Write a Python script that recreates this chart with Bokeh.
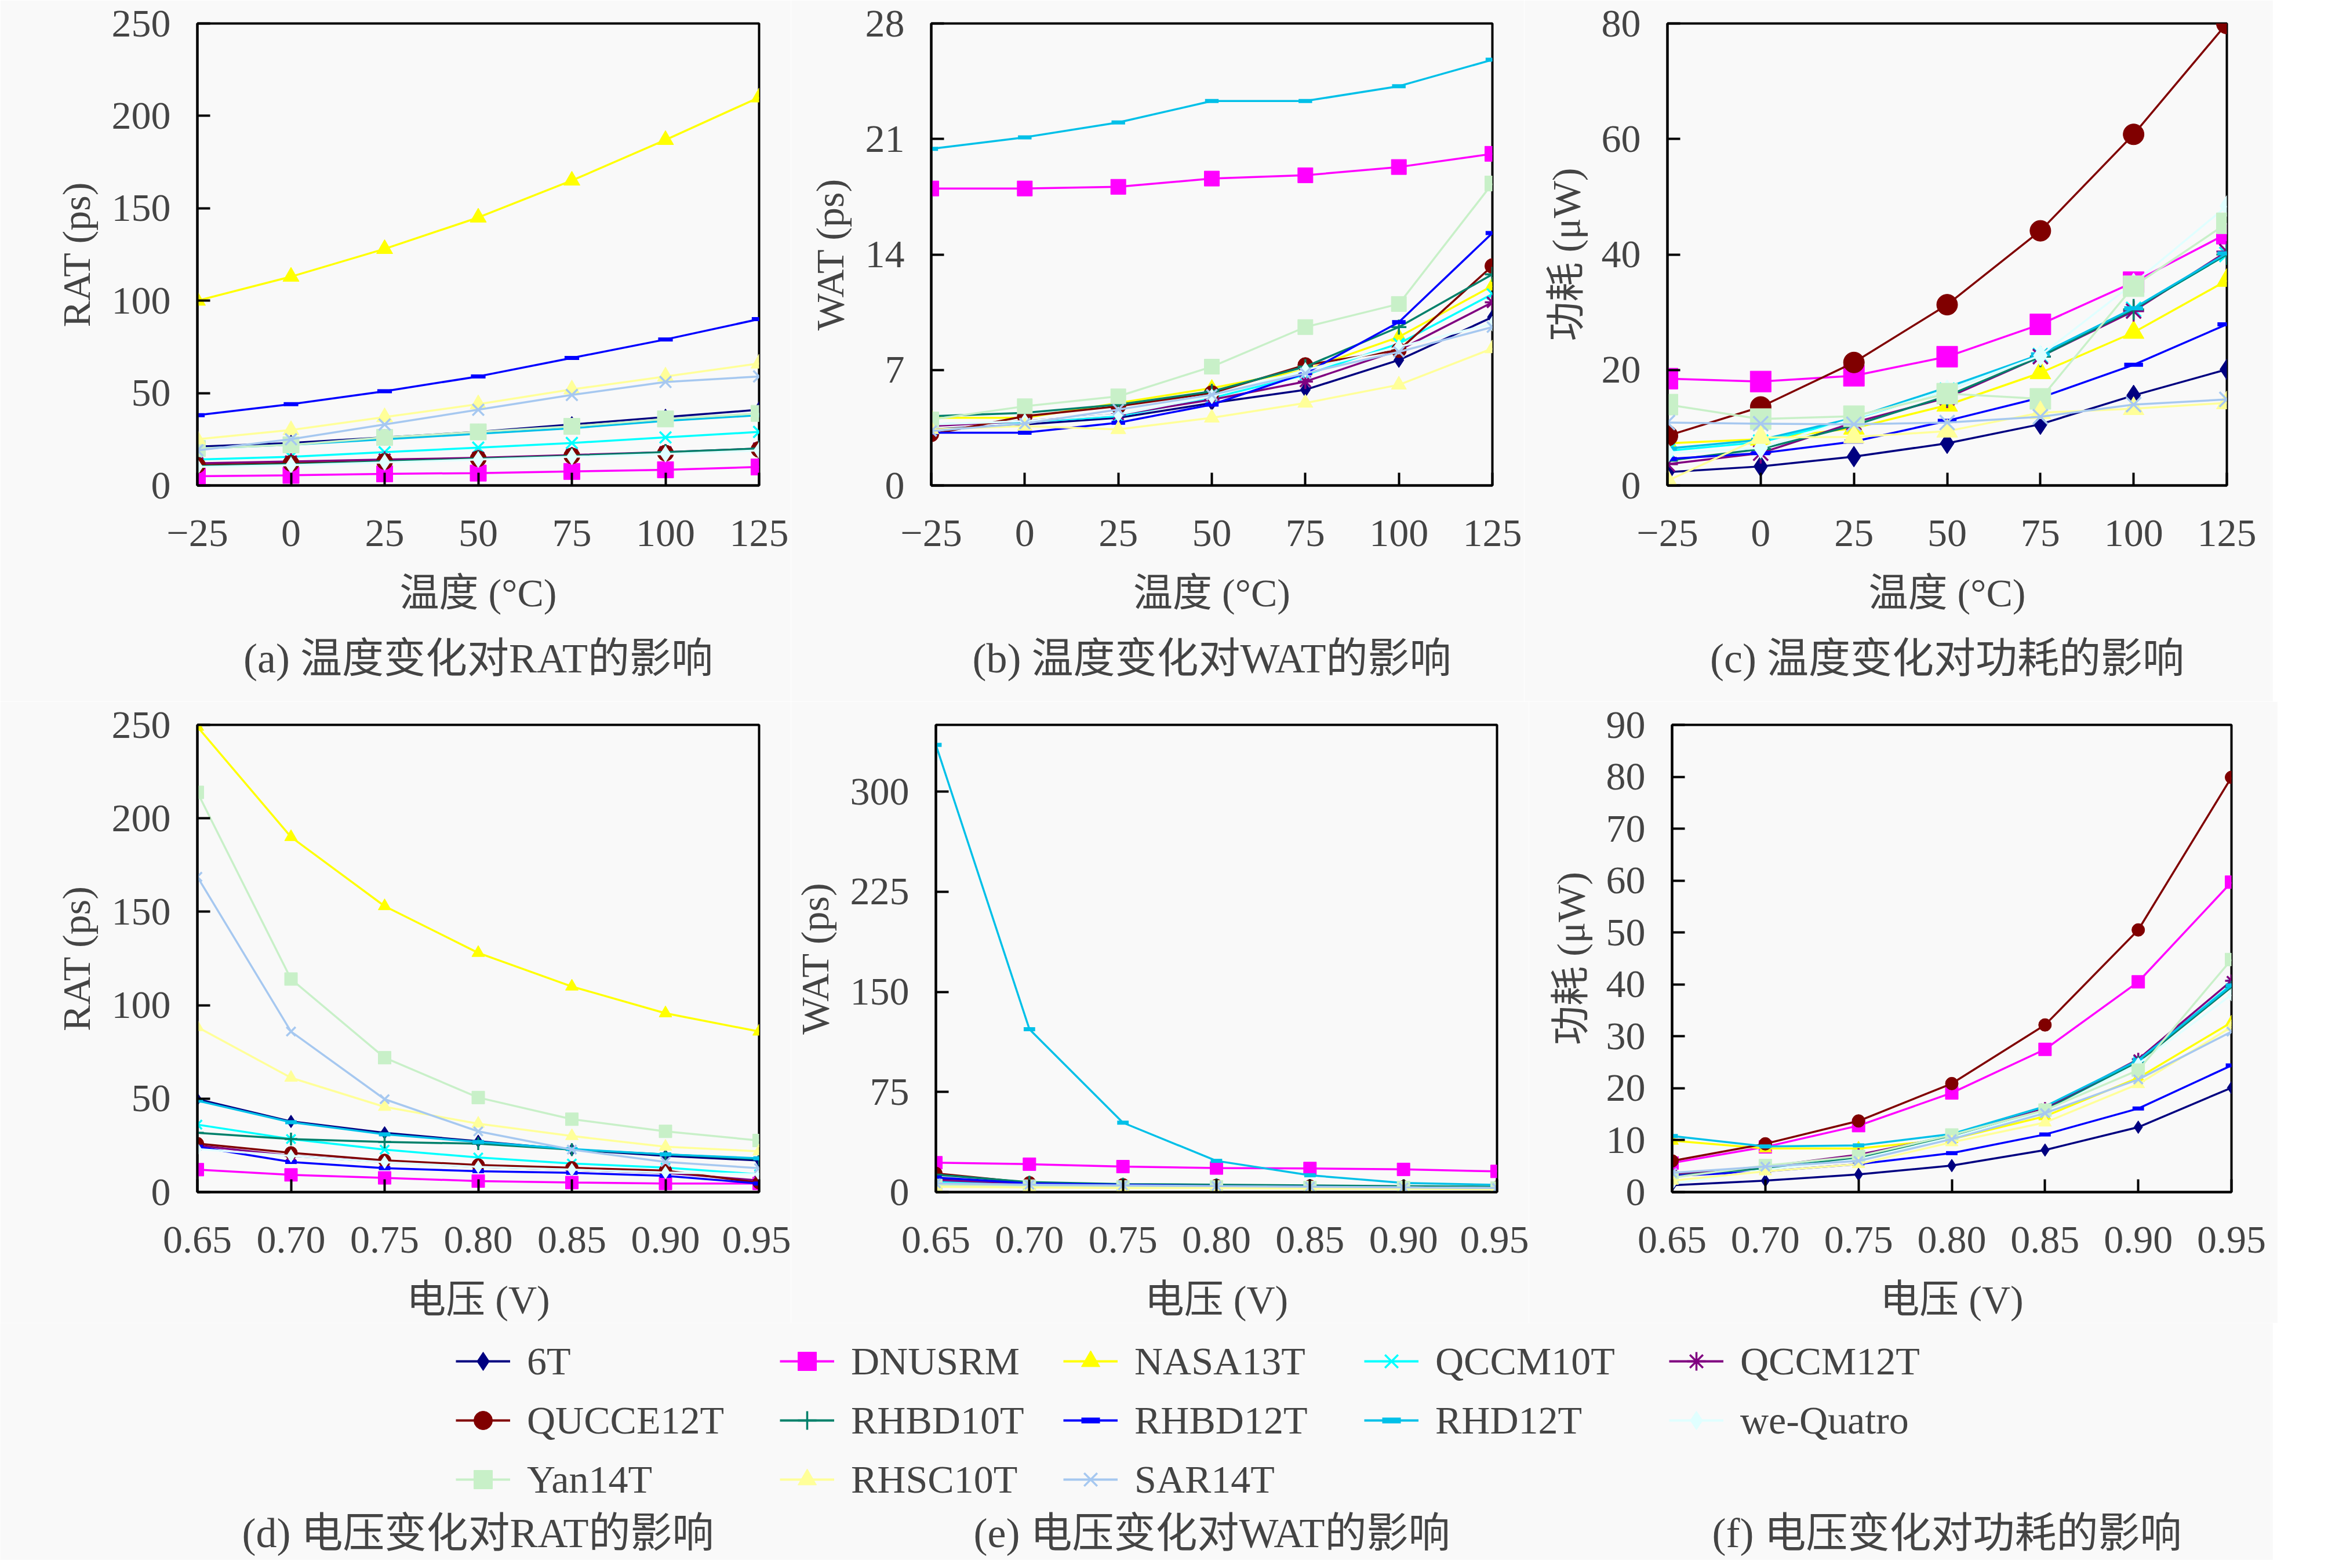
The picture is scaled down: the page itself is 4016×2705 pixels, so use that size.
from bokeh.plotting import figure
from bokeh.layouts import column, row
from bokeh.models import Legend, LegendItem, Label, Title, FixedTicker, Range1d
from bokeh.embed import file_html
from bokeh.resources import INLINE

# ---------------- data ----------------
names = ["6T", "DNUSRM", "NASA13T", "QCCM10T", "QCCM12T", "QUCCE12T", "RHBD10T",
         "RHBD12T", "RHD12T", "we-Quatro", "Yan14T", "RHSC10T", "SAR14T"]
colors = ["#000080", "#FF00FF", "#FFFF00", "#00FFFF", "#800080", "#800000", "#00806A",
          "#0000FF", "#00C0E8", "#E0FFFF", "#C8F0C8", "#FFFF99", "#A6C8F0"]
markers = ["diamond", "square", "triangle", "x", "asterisk", "circle", "cross",
           "dash", "dash", "diamond", "square", "triangle", "x"]

temps = [-25, 0, 25, 50, 75, 100, 125]
temp_labels = ["\u221225", "0", "25", "50", "75", "100", "125"]
volts = [0.65, 0.70, 0.75, 0.80, 0.85, 0.90, 0.95]
volt_labels = ["0.65", "0.70", "0.75", "0.80", "0.85", "0.90", "0.95"]

# (a) RAT vs temperature (ps)
rat_temp = [
    [21, 23, 26, 29, 33, 37, 41],
    [5, 5.5, 6.3, 6.7, 7.6, 8.5, 10],
    [100, 113, 128, 145, 165, 187, 210],
    [14, 15.5, 18, 20.5, 23, 26, 29],
    [12, 13, 14, 15, 16.5, 18, 20],
    [11, 12, 13, 14.5, 16, 17.5, 19.5],
    [10.5, 11.5, 13, 14.5, 16, 18, 20],
    [38, 44, 51, 59, 69, 79, 90],
    [20, 22, 25, 28, 31, 35, 38],
    [10, 11, 12.5, 14, 15.5, 17, 19],
    [20, 22, 26, 29, 32, 36, 39],
    [25, 30, 37, 44, 52, 59, 66],
    [19, 25, 33, 41, 49, 56, 59],
]
# (b) WAT vs temperature (ps)
wat_temp = [
    [3.4, 3.7, 4.1, 5.0, 5.8, 7.6, 10.2],
    [18.0, 18.0, 18.1, 18.6, 18.8, 19.3, 20.1],
    [4.1, 4.1, 5.0, 5.9, 7.0, 9.0, 12.1],
    [3.7, 3.85, 4.2, 5.3, 6.7, 8.6, 11.6],
    [3.6, 3.9, 4.3, 5.2, 6.3, 8.2, 11.1],
    [3.1, 4.2, 4.8, 5.6, 7.3, 8.2, 13.3],
    [4.2, 4.4, 4.9, 5.7, 7.2, 9.6, 12.8],
    [3.2, 3.2, 3.8, 4.9, 6.8, 9.9, 15.3],
    [20.4, 21.1, 22.0, 23.3, 23.3, 24.2, 25.8],
    [3.7, 3.9, 4.3, 5.4, 7.0, 8.4, 9.8],
    [4.0, 4.8, 5.4, 7.2, 9.6, 11.0, 18.3],
    [3.4, 3.6, 3.4, 4.1, 5.0, 6.1, 8.3],
    [3.3, 3.75, 4.6, 5.5, 6.8, 8.1, 9.6],
]
# (c) power vs temperature (uW)
pow_temp = [
    [2.3, 3.3, 5.0, 7.3, 10.6, 15.6, 20.1],
    [18.5, 18.0, 19.0, 22.3, 27.9, 35.2, 43.6],
    [7.3, 8.0, 9.9, 13.9, 19.5, 26.5, 35.5],
    [6.0, 7.5, 11.5, 16.5, 22.5, 30.5, 40.0],
    [3.7, 5.6, 10.9, 15.2, 22.3, 30.2, 40.5],
    [8.6, 13.6, 21.3, 31.3, 44.1, 60.8, 80.0],
    [4.3, 6.3, 10.4, 15.5, 22.3, 30.5, 40.0],
    [4.6, 5.6, 7.6, 11.2, 15.2, 20.9, 27.9],
    [6.4, 7.9, 11.7, 17.0, 22.7, 30.7, 40.2],
    [5.6, 6.5, 11.6, 16.5, 22.5, 35.0, 48.4],
    [14.0, 11.5, 12.0, 15.9, 15.0, 34.5, 45.4],
    [0.8, 8.3, 8.4, 9.4, 12.6, 13.3, 14.3],
    [10.9, 10.7, 10.6, 10.9, 11.9, 14.0, 14.9],
]
# (d) RAT vs voltage (ps)
rat_volt = [
    [49.7, 37.8, 31.7, 27.2, 22.7, 19.4, 16.9],
    [12, 9.2, 7.6, 5.9, 5.1, 4.6, 4.6],
    [249, 190, 153, 128, 110, 95.7, 85.9],
    [36.1, 28.4, 22.7, 18.5, 15.3, 13.1, 9.5],
    [25, 19.4, 16.1, 13.6, 12, 10.3, 6.2],
    [26, 21, 17, 14.5, 13, 11.5, 5],
    [31.7, 28.4, 26.8, 25.9, 22.7, 20.2, 17.7],
    [24.3, 16.1, 12.8, 11.2, 10.3, 8.7, 4.6],
    [48.9, 37.4, 30.9, 26.8, 23.0, 20.2, 18.1],
    [23, 19.4, 16, 13.5, 12, 10.5, 9.5],
    [213.9, 114, 71.9, 50.6, 39, 32.5, 27.6],
    [88.3, 61.2, 45.6, 36.6, 30, 24.3, 21.8],
    [168.7, 85.9, 49.7, 32.5, 22.7, 16.1, 12.8],
]
# (e) WAT vs voltage (ps)
wat_volt = [
    [10, 6, 5, 4.5, 4, 3.5, 3],
    [22, 20.9, 19.1, 18, 17.7, 17, 15.5],
    [7, 5.5, 5, 4.5, 4, 3.5, 3],
    [8, 6, 5, 4.5, 4, 3.5, 3],
    [9, 6.5, 5.5, 5, 4.5, 4, 3.5],
    [14, 7, 5.5, 5, 4.5, 4, 3.5],
    [13, 7.5, 6, 5.5, 5, 4.5, 4],
    [11, 6.5, 5.5, 4.5, 4, 3.5, 3],
    [335, 122, 52, 23.4, 12.6, 6.8, 5.4],
    [6, 5, 4.5, 4, 3.5, 3.5, 3],
    [5, 4.5, 4, 4, 3.5, 3.5, 3],
    [4, 3.5, 3, 3, 2.5, 2.5, 2],
    [6.5, 5.5, 5, 4.5, 4, 3.5, 3],
]
# (f) power vs voltage (uW)
pow_volt = [
    [1.3, 2.2, 3.4, 5.1, 8.1, 12.5, 20.1],
    [5.6, 8.7, 12.8, 19.1, 27.5, 40.5, 59.7],
    [9.9, 8.4, 8.4, 10.2, 14.6, 22.0, 32.7],
    [3.4, 4.6, 6.9, 11.0, 16.1, 25.3, 40.0],
    [3.4, 4.9, 7.2, 10.8, 16.1, 25.6, 40.7],
    [6.0, 9.3, 13.7, 20.9, 32.2, 50.5, 79.9],
    [3.1, 4.6, 6.6, 10.8, 15.8, 25.0, 39.5],
    [3.1, 4.0, 5.4, 7.5, 11.1, 16.1, 24.4],
    [10.8, 8.8, 9.0, 11.2, 16.5, 25.4, 39.8],
    [1.6, 4.3, 6.3, 10.5, 15.5, 24.7, 38.0],
    [2.8, 5.1, 6.9, 11.0, 15.8, 23.5, 44.8],
    [2.2, 4.0, 5.4, 9.6, 13.4, 20.8, 31.8],
    [3.7, 4.9, 6.0, 10.2, 15.2, 21.7, 30.9],
]

yticks_a = [0, 50, 100, 150, 200, 250]
yticks_b = [0, 7, 14, 21, 28]
yticks_c = [0, 20, 40, 60, 80]
yticks_d = [0, 50, 100, 150, 200, 250]
yticks_e = [0, 75, 150, 225, 300]
yticks_f = [0, 10, 20, 30, 40, 50, 60, 70, 80, 90]

captions = ["(a) 温度变化对RAT的影响", "(b) 温度变化对WAT的影响", "(c) 温度变化对功耗的影响",
            "(d) 电压变化对RAT的影响", "(e) 电压变化对WAT的影响", "(f) 电压变化对功耗的影响"]

# ---------------- style ----------------
FONT = "Liberation Serif, Noto Sans CJK SC"
FS = "68px"
CFS = "72px"
BG = "#F9F9F9"
LW = 3.5
FWS = [969, 968, 965]
BLS = [340, 242, 247]
BRS = [55, 55, 80]


def make_fig(col, xr, yr, xticks, xlabels, yticks, xlab, ylab, top, fh, bottom):
    p = figure(frame_width=FWS[col], frame_height=fh,
               x_range=Range1d(*xr), y_range=Range1d(*yr),
               output_backend="svg", toolbar_location=None,
               min_border_left=BLS[col], min_border_right=BRS[col],
               min_border_top=top, min_border_bottom=bottom)
    p.background_fill_color = BG
    p.border_fill_color = BG
    p.outline_line_color = "black"
    p.outline_line_width = 4
    p.grid.visible = False
    for ax in (p.xaxis[0], p.yaxis[0]):
        ax.axis_line_width = 4
        ax.major_tick_in = 22
        ax.major_tick_out = 0
        ax.major_tick_line_width = 4
        ax.minor_tick_line_color = None
        ax.major_label_text_font = FONT
        ax.major_label_text_font_size = FS
        ax.axis_label_text_font = FONT
        ax.axis_label_text_font_size = FS
        ax.axis_label_text_font_style = "normal"
    p.xaxis.ticker = FixedTicker(ticks=xticks)
    p.xaxis.major_label_overrides = {t: s for t, s in zip(xticks, xlabels)}
    p.yaxis.ticker = FixedTicker(ticks=yticks)
    p.xaxis.axis_label = xlab
    p.yaxis.axis_label = ylab
    p.xaxis.major_label_standoff = 60
    p.xaxis.axis_label_standoff = 40
    p.yaxis.major_label_standoff = 46
    p.yaxis.axis_label_standoff = 20
    return p


def add_series(p, xs, data, ms):
    for i, ys in enumerate(data):
        c = colors[i]
        p.line(xs, ys, line_color=c, line_width=LW)
        m = markers[i]
        if m in ("x", "asterisk", "cross"):
            p.scatter(xs, ys, marker=m, size=ms, line_color=c, line_width=3.5)
        elif m == "dash":
            p.scatter(xs, ys, marker="dash", size=ms * 0.9, line_color=c, line_width=7)
        else:
            p.scatter(xs, ys, marker=m, size=ms, fill_color=c, line_color=c)


TEMP_LAB = "温度 (°C)"
VOLT_LAB = "电压 (V)"

pa = make_fig(0, (-25, 125), (0, 250), temps, temp_labels, yticks_a, TEMP_LAB, "RAT (ps)", 40, 797, 373)
pb = make_fig(1, (-25, 125), (0, 28), temps, temp_labels, yticks_b, TEMP_LAB, "WAT (ps)", 40, 797, 373)
pc = make_fig(2, (-25, 125), (0, 80), temps, temp_labels, yticks_c, TEMP_LAB, "功耗 (μW)", 40, 797, 373)
pd = make_fig(0, (0.65, 0.95), (0, 250), volts, volt_labels, yticks_d, VOLT_LAB, "RAT (ps)", 40, 806, 222)
pe = make_fig(1, (0.65, 0.95), (0, 350), volts, volt_labels, yticks_e, VOLT_LAB, "WAT (ps)", 40, 806, 222)
pf = make_fig(2, (0.65, 0.95), (0, 90), volts, volt_labels, yticks_f, VOLT_LAB, "功耗 (μW)", 40, 806, 222)

add_series(pa, temps, rat_temp, 28)
add_series(pb, temps, wat_temp, 26)
add_series(pc, temps, pow_temp, 36)
add_series(pd, volts, rat_volt, 22)
add_series(pe, volts, wat_volt, 22)
add_series(pf, volts, pow_volt, 22)

for p, cap in zip((pa, pb, pc), captions[:3]):
    p.add_layout(Title(text=cap, align="center", text_font=FONT, text_font_size=CFS,
                       text_font_style="normal", standoff=60), "below")

# ---------------- legend + bottom captions ----------------
TOTAL_W = sum(BLS) + sum(FWS) + sum(BRS)
LEG_H = 409
# the legend figure's range lies away from the data, so its renderers only feed the legend
pl = figure(width=TOTAL_W, height=LEG_H, x_range=Range1d(1000, 1001), y_range=Range1d(1000, 1001),
            output_backend="svg", toolbar_location=None,
            min_border_left=0, min_border_right=0, min_border_top=0, min_border_bottom=0)
pl.axis.visible = False
pl.grid.visible = False
pl.outline_line_color = None
pl.background_fill_color = BG
pl.border_fill_color = BG

items = []
for i, n in enumerate(names):
    c = colors[i]
    ys = pow_volt[i]
    r1 = pl.line(volts, ys, line_color=c, line_width=4)
    m = markers[i]
    if m in ("x", "asterisk", "cross"):
        r2 = pl.scatter(volts, ys, marker=m, size=40, line_color=c, line_width=3.5)
    elif m == "dash":
        r2 = pl.scatter(volts, ys, marker="dash", size=32, line_color=c, line_width=10)
    else:
        r2 = pl.scatter(volts, ys, marker=m, size=40, fill_color=c, line_color=c)
    items.append(LegendItem(label=n, renderers=[r1, r2]))

leg_x = [786, 1345, 1834, 2353, 2879]
ROW_H, ROW_GAP, LEG_TOP = 80, 22, 26
for col in range(5):
    its = [items[k] for k in range(col, len(items), 5)]
    nrow = len(its)
    h = nrow * ROW_H + (nrow - 1) * ROW_GAP
    y = LEG_H - (LEG_TOP + h)
    lg = Legend(items=its, location=(leg_x[col], y), orientation="vertical",
                glyph_width=94, glyph_height=ROW_H, label_height=ROW_H, spacing=ROW_GAP,
                label_standoff=29, padding=0, margin=0,
                label_text_font=FONT, label_text_font_size=FS,
                border_line_alpha=0, background_fill_alpha=0)
    pl.add_layout(lg, "center")

cap_x = [824, 2090, 3358]
for cx, cap in zip(cap_x, captions[3:]):
    pl.add_layout(Label(x=cx, y=47, x_units="screen", y_units="screen", text=cap,
                        text_align="center", text_baseline="middle",
                        text_font=FONT, text_font_size=CFS))

layout = column(row(pa, pb, pc), row(pd, pe, pf), pl)
html = file_html(layout, INLINE, title="chart")
html = html.replace("<body>", "<body style=\"background:%s\">" % BG, 1)
open("out.html", "w").write(html)
